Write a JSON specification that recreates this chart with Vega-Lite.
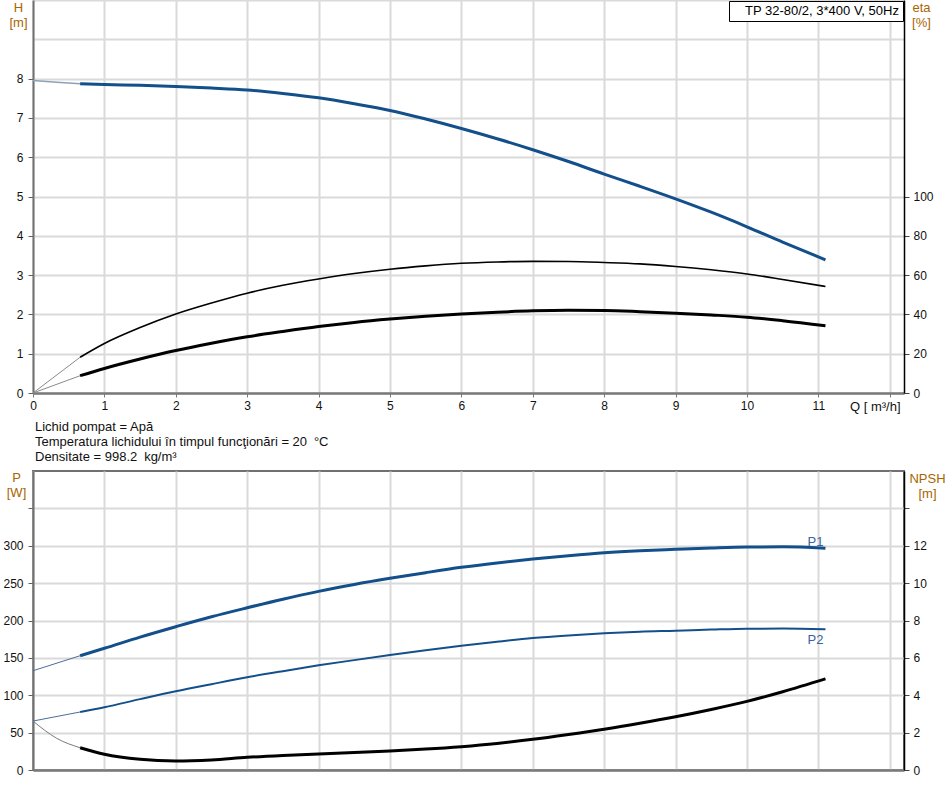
{
  "$schema": "https://vega.github.io/schema/vega-lite/v6.json",
  "autosize": {"type": "none"},
  "padding": {"left": 33, "top": 0, "right": 919, "bottom": 788},
  "background": "white",
  "config": {
    "font": "Liberation Sans",
    "view": {"stroke": null},
    "axis": {
      "labelFont": "Liberation Sans", "labelFontSize": 12, "labelColor": "#111111",
      "labelFlush": false, "labelOverlap": false,
      "titleFont": "Liberation Sans", "titleFontSize": 13, "titleFontWeight": "normal", "titleColor": "#a86400",
      "gridColor": "#dadada", "gridWidth": 2,
      "domainColor": "#707070", "domainWidth": 2,
      "tickColor": "#606060", "tickWidth": 1, "tickSize": 5
    },
    "legend": {
      "orient": "top-right", "offset": 1, "strokeColor": "#000000", "fillColor": "#ffffff",
      "padding": 3, "labelFont": "Liberation Sans", "labelFontSize": 13, "labelColor": "#000000",
      "symbolSize": 0, "symbolOpacity": 0, "symbolStrokeWidth": 0, "labelOffset": 0
    }
  },
  "datasets": {
    "curves": [
      {"s": "Hext", "q": 0, "v": 7.95}, {"s": "Hext", "q": 0.33, "v": 7.91}, {"s": "Hext", "q": 0.66, "v": 7.87},
      {"s": "H", "q": 0.66, "v": 7.87}, {"s": "H", "q": 1, "v": 7.85}, {"s": "H", "q": 1.5, "v": 7.83}, {"s": "H", "q": 2, "v": 7.8},
      {"s": "H", "q": 2.5, "v": 7.76}, {"s": "H", "q": 3, "v": 7.71}, {"s": "H", "q": 3.5, "v": 7.62}, {"s": "H", "q": 4, "v": 7.51},
      {"s": "H", "q": 4.5, "v": 7.36}, {"s": "H", "q": 5, "v": 7.19}, {"s": "H", "q": 5.5, "v": 6.97}, {"s": "H", "q": 6, "v": 6.73},
      {"s": "H", "q": 6.5, "v": 6.47}, {"s": "H", "q": 7, "v": 6.19}, {"s": "H", "q": 7.5, "v": 5.89}, {"s": "H", "q": 8, "v": 5.57},
      {"s": "H", "q": 8.5, "v": 5.26}, {"s": "H", "q": 9, "v": 4.94}, {"s": "H", "q": 9.5, "v": 4.6}, {"s": "H", "q": 10, "v": 4.23},
      {"s": "H", "q": 10.5, "v": 3.84}, {"s": "H", "q": 11.1, "v": 3.39},
      {"s": "eta1ext", "q": 0, "v": 0}, {"s": "eta1ext", "q": 0.66, "v": 18.2},
      {"s": "eta2ext", "q": 0, "v": 0}, {"s": "eta2ext", "q": 0.66, "v": 8.8},
      {"s": "eta1", "q": 0.66, "v": 18.2}, {"s": "eta1", "q": 1, "v": 25.2}, {"s": "eta1", "q": 1.5, "v": 33.3}, {"s": "eta1", "q": 2, "v": 40.2},
      {"s": "eta1", "q": 2.5, "v": 45.8}, {"s": "eta1", "q": 3, "v": 50.8}, {"s": "eta1", "q": 3.5, "v": 54.8}, {"s": "eta1", "q": 4, "v": 58},
      {"s": "eta1", "q": 4.5, "v": 60.8}, {"s": "eta1", "q": 5, "v": 63}, {"s": "eta1", "q": 5.5, "v": 64.7}, {"s": "eta1", "q": 6, "v": 66},
      {"s": "eta1", "q": 6.5, "v": 66.7}, {"s": "eta1", "q": 7, "v": 67}, {"s": "eta1", "q": 7.5, "v": 66.9}, {"s": "eta1", "q": 8, "v": 66.4},
      {"s": "eta1", "q": 8.5, "v": 65.7}, {"s": "eta1", "q": 9, "v": 64.4}, {"s": "eta1", "q": 9.5, "v": 62.7}, {"s": "eta1", "q": 10, "v": 60.6},
      {"s": "eta1", "q": 10.5, "v": 57.8}, {"s": "eta1", "q": 11.1, "v": 54.2},
      {"s": "eta2", "q": 0.66, "v": 8.8}, {"s": "eta2", "q": 1, "v": 12.5}, {"s": "eta2", "q": 1.5, "v": 17.3}, {"s": "eta2", "q": 2, "v": 21.6},
      {"s": "eta2", "q": 2.5, "v": 25.3}, {"s": "eta2", "q": 3, "v": 28.6}, {"s": "eta2", "q": 3.5, "v": 31.3}, {"s": "eta2", "q": 4, "v": 33.8},
      {"s": "eta2", "q": 4.5, "v": 35.9}, {"s": "eta2", "q": 5, "v": 37.6}, {"s": "eta2", "q": 5.5, "v": 39}, {"s": "eta2", "q": 6, "v": 40.2},
      {"s": "eta2", "q": 6.5, "v": 41.1}, {"s": "eta2", "q": 7, "v": 41.8}, {"s": "eta2", "q": 7.5, "v": 42.1}, {"s": "eta2", "q": 8, "v": 42},
      {"s": "eta2", "q": 8.5, "v": 41.4}, {"s": "eta2", "q": 9, "v": 40.6}, {"s": "eta2", "q": 9.5, "v": 39.7}, {"s": "eta2", "q": 10, "v": 38.6},
      {"s": "eta2", "q": 10.5, "v": 36.8}, {"s": "eta2", "q": 11.1, "v": 34.2},
      {"s": "P1ext", "q": 0, "v": 132.8}, {"s": "P1ext", "q": 0.66, "v": 152.9},
      {"s": "P1", "q": 0.66, "v": 152.9}, {"s": "P1", "q": 1, "v": 162.8}, {"s": "P1", "q": 1.5, "v": 177.8}, {"s": "P1", "q": 2, "v": 191.7},
      {"s": "P1", "q": 2.5, "v": 205}, {"s": "P1", "q": 3, "v": 217}, {"s": "P1", "q": 3.5, "v": 228.5}, {"s": "P1", "q": 4, "v": 239},
      {"s": "P1", "q": 4.5, "v": 248.2}, {"s": "P1", "q": 5, "v": 256.4}, {"s": "P1", "q": 5.5, "v": 264}, {"s": "P1", "q": 6, "v": 271.1},
      {"s": "P1", "q": 6.5, "v": 277}, {"s": "P1", "q": 7, "v": 282.2}, {"s": "P1", "q": 7.5, "v": 286.7}, {"s": "P1", "q": 8, "v": 290.6},
      {"s": "P1", "q": 8.5, "v": 293.3}, {"s": "P1", "q": 9, "v": 295.2}, {"s": "P1", "q": 9.5, "v": 297}, {"s": "P1", "q": 10, "v": 298.3},
      {"s": "P1", "q": 10.5, "v": 298.5}, {"s": "P1", "q": 11.1, "v": 296.5},
      {"s": "P2ext", "q": 0, "v": 65.5}, {"s": "P2ext", "q": 0.66, "v": 77.6},
      {"s": "P2", "q": 0.66, "v": 77.6}, {"s": "P2", "q": 1, "v": 83.9}, {"s": "P2", "q": 1.5, "v": 94.8}, {"s": "P2", "q": 2, "v": 105.3},
      {"s": "P2", "q": 2.5, "v": 114.8}, {"s": "P2", "q": 3, "v": 124}, {"s": "P2", "q": 3.5, "v": 132.2}, {"s": "P2", "q": 4, "v": 140},
      {"s": "P2", "q": 4.5, "v": 147}, {"s": "P2", "q": 5, "v": 153.8}, {"s": "P2", "q": 5.5, "v": 160.2}, {"s": "P2", "q": 6, "v": 166.2},
      {"s": "P2", "q": 6.5, "v": 171.6}, {"s": "P2", "q": 7, "v": 176.5}, {"s": "P2", "q": 7.5, "v": 180}, {"s": "P2", "q": 8, "v": 182.8},
      {"s": "P2", "q": 8.5, "v": 185}, {"s": "P2", "q": 9, "v": 186.3}, {"s": "P2", "q": 9.5, "v": 187.8}, {"s": "P2", "q": 10, "v": 189},
      {"s": "P2", "q": 10.5, "v": 189.2}, {"s": "P2", "q": 11.1, "v": 188.2},
      {"s": "Next", "q": 0, "v": 2.62}, {"s": "Next", "q": 0.33, "v": 1.7}, {"s": "Next", "q": 0.66, "v": 1.19},
      {"s": "N", "q": 0.66, "v": 1.19}, {"s": "N", "q": 1, "v": 0.84}, {"s": "N", "q": 1.5, "v": 0.57}, {"s": "N", "q": 2, "v": 0.48},
      {"s": "N", "q": 2.5, "v": 0.54}, {"s": "N", "q": 3, "v": 0.68}, {"s": "N", "q": 3.5, "v": 0.78}, {"s": "N", "q": 4, "v": 0.86},
      {"s": "N", "q": 4.5, "v": 0.94}, {"s": "N", "q": 5, "v": 1.02}, {"s": "N", "q": 5.5, "v": 1.12}, {"s": "N", "q": 6, "v": 1.25},
      {"s": "N", "q": 6.5, "v": 1.42}, {"s": "N", "q": 7, "v": 1.64}, {"s": "N", "q": 7.5, "v": 1.9}, {"s": "N", "q": 8, "v": 2.18},
      {"s": "N", "q": 8.5, "v": 2.5}, {"s": "N", "q": 9, "v": 2.85}, {"s": "N", "q": 9.5, "v": 3.24}, {"s": "N", "q": 10, "v": 3.67},
      {"s": "N", "q": 10.5, "v": 4.19}, {"s": "N", "q": 11.1, "v": 4.88}
    ],
    "labels": [
      {"q": 10.96, "v": 300, "t": "P1"},
      {"q": 10.96, "v": 168.7, "t": "P2"}
    ]
  },
  "spacing": 78,
  "bounds": "flush",
  "vconcat": [
    {
      "width": 871,
      "height": 393,
      "data": {"name": "curves"},
      "encoding": {
        "x": {
          "field": "q", "type": "quantitative",
          "scale": {"domain": [0, 12.2], "nice": false, "zero": false},
          "axis": {
            "values": [0, 1, 2, 3, 4, 5, 6, 7, 8, 9, 10, 11, 12],
            "labelExpr": "datum.value <= 11 ? datum.label : ''",
            "grid": true, "tickSize": 4, "labelPadding": 3,
            "domainColor": "#7a7a7a", "domainWidth": 2.5, "tickColor": "#7a7a7a",
            "title": "Q [ m³/h]", "titleColor": "#111111", "titleAlign": "right", "titleAnchor": "end",
            "titleX": 867, "titleY": 17.5, "titleBaseline": "alphabetic"
          }
        }
      },
      "layer": [
        {
          "encoding": {
            "y": {
              "field": "v", "type": "quantitative",
              "scale": {"domain": [0, 10], "nice": false},
              "axis": {
                "values": [0, 1, 2, 3, 4, 5, 6, 7, 8, 9, 10],
                "labelExpr": "datum.value <= 8 ? datum.label : ''",
                "tickOpacity": {"condition": {"test": "datum.value > 8", "value": 0}, "value": 1},
                "grid": true, "labelPadding": 5,
                "title": ["H", "[m]"], "titleAngle": 0, "titleAlign": "center", "titleBaseline": "alphabetic",
                "titleX": -15, "titleY": 11, "titleLineHeight": 15
              }
            }
          },
          "layer": [
            {
              "transform": [{"filter": "datum.s == 'Hext'"}],
              "mark": {"type": "line", "color": "#8da0ba", "strokeWidth": 1.5},
              "encoding": {}
            },
            {
              "transform": [{"filter": "datum.s == 'H'"}],
              "mark": {"type": "line", "strokeWidth": 3, "interpolate": "monotone"},
              "encoding": {
                "color": {
                  "datum": "TP 32-80/2, 3*400 V, 50Hz", "type": "nominal",
                  "scale": {"range": ["#134f8b"]},
                  "legend": {"title": null}
                }
              }
            }
          ]
        },
        {
          "encoding": {
            "y": {
              "field": "v", "type": "quantitative",
              "scale": {"domain": [0, 200], "nice": false},
              "axis": {
                "orient": "right", "values": [0, 20, 40, 60, 80, 100],
                "grid": false, "labelPadding": 4,
                "domainColor": "#000000", "domainWidth": 1.5, "tickColor": "#444444",
                "title": ["eta", "[%]"], "titleAngle": 0, "titleAlign": "center", "titleBaseline": "alphabetic",
                "titleX": 17, "titleY": 11, "titleLineHeight": 15
              }
            }
          },
          "layer": [
            {
              "transform": [{"filter": "datum.s == 'eta1ext' || datum.s == 'eta2ext'"}],
              "mark": {"type": "line", "color": "#8a8a8a", "strokeWidth": 1},
              "encoding": {"detail": {"field": "s"}}
            },
            {
              "transform": [{"filter": "datum.s == 'eta1'"}],
              "mark": {"type": "line", "color": "#000000", "strokeWidth": 1.6, "interpolate": "monotone"},
              "encoding": {}
            },
            {
              "transform": [{"filter": "datum.s == 'eta2'"}],
              "mark": {"type": "line", "color": "#000000", "strokeWidth": 3, "interpolate": "monotone"},
              "encoding": {}
            }
          ]
        }
      ],
      "resolve": {"scale": {"y": "independent"}}
    },
    {
      "width": 871,
      "height": 299,
      "view": {"stroke": "#707070", "strokeWidth": 2},
      "title": {
        "text": ["Lichid pompat = Apă", "\u2005Temperatura lichidului în timpul funcţionări = 20\u2005 °C", "Densitate = 998.2\u2005 kg/m³"],
        "anchor": "start", "frame": "group", "orient": "top", "offset": 7, "dx": 2,
        "font": "Liberation Sans", "fontSize": 13, "fontWeight": "normal", "color": "#111111", "lineHeight": 15
      },
      "encoding": {
        "x": {
          "field": "q", "type": "quantitative",
          "scale": {"domain": [0, 12.2], "nice": false, "zero": false},
          "axis": {
            "values": [0, 1, 2, 3, 4, 5, 6, 7, 8, 9, 10, 11, 12],
            "labels": false, "ticks": false, "grid": true, "title": null,
            "domainColor": "#7a7a7a", "domainWidth": 2.5
          }
        }
      },
      "layer": [
        {
          "encoding": {
            "y": {
              "field": "v", "type": "quantitative",
              "scale": {"domain": [0, 400], "nice": false},
              "axis": {
                "values": [0, 50, 100, 150, 200, 250, 300, 350],
                "labelExpr": "datum.value <= 300 ? datum.label : ''",
                "grid": true, "labelPadding": 5,
                "title": ["P", "[W]"], "titleAngle": 0, "titleAlign": "center", "titleBaseline": "alphabetic",
                "titleX": -17, "titleY": 10, "titleLineHeight": 15
              }
            }
          },
          "layer": [
            {
              "data": {"name": "curves"},
              "transform": [{"filter": "datum.s == 'P1ext' || datum.s == 'P2ext'"}],
              "mark": {"type": "line", "color": "#4a6d9c", "strokeWidth": 1},
              "encoding": {"detail": {"field": "s"}}
            },
            {
              "data": {"name": "curves"},
              "transform": [{"filter": "datum.s == 'P1'"}],
              "mark": {"type": "line", "color": "#134f8b", "strokeWidth": 3, "interpolate": "monotone"},
              "encoding": {}
            },
            {
              "data": {"name": "curves"},
              "transform": [{"filter": "datum.s == 'P2'"}],
              "mark": {"type": "line", "color": "#134f8b", "strokeWidth": 2, "interpolate": "monotone"},
              "encoding": {}
            },
            {
              "data": {"name": "labels"},
              "mark": {"type": "text", "align": "center", "baseline": "alphabetic", "fontSize": 13, "font": "Liberation Sans", "color": "#3a62a0"},
              "encoding": {"text": {"field": "t"}}
            }
          ]
        },
        {
          "data": {"name": "curves"},
          "encoding": {
            "y": {
              "field": "v", "type": "quantitative",
              "scale": {"domain": [0, 16], "nice": false},
              "axis": {
                "orient": "right", "values": [0, 2, 4, 6, 8, 10, 12, 14],
                "labelExpr": "datum.value <= 12 ? datum.label : ''",
                "grid": false, "labelPadding": 4,
                "domainColor": "#000000", "domainWidth": 1.5, "tickColor": "#444444",
                "title": ["NPSH", "[m]"], "titleAngle": 0, "titleAlign": "center", "titleBaseline": "alphabetic",
                "titleX": 23, "titleY": 11, "titleLineHeight": 15
              }
            }
          },
          "layer": [
            {
              "transform": [{"filter": "datum.s == 'Next'"}],
              "mark": {"type": "line", "color": "#7a7a7a", "strokeWidth": 1, "interpolate": "monotone"},
              "encoding": {}
            },
            {
              "transform": [{"filter": "datum.s == 'N'"}],
              "mark": {"type": "line", "color": "#000000", "strokeWidth": 3, "interpolate": "monotone"},
              "encoding": {}
            }
          ]
        }
      ],
      "resolve": {"scale": {"y": "independent"}}
    }
  ]
}
